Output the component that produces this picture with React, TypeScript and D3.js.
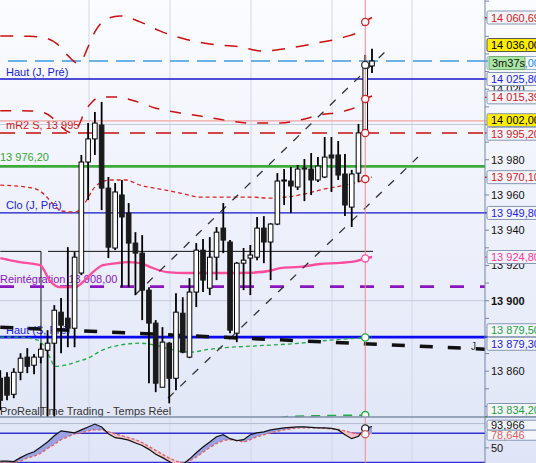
import React from 'react';
import * as d3 from 'd3';

const W = 536;
const H = 463;
const PLOT_RIGHT = 485;
const MAIN_BOTTOM = 417;
const FONT = '"Liberation Sans", Arial, Helvetica, sans-serif';

// ---- candles: bars -1 .. 54 ----
const FIRST_BAR = -1;
const barOpen = [13856, 13856.6, 13846.9, 13859.4, 13868, 13863.4, 13868, 13871.9, 13875.9, 13893.5, 13890.1, 13884.4, 13915.7, 13978.7, 13991.8, 13999.7, 13963.9, 13929.9, 13960, 13949.7, 13932.7, 13927, 13906, 13887.3, 13850.9, 13875.9, 13856, 13892.9, 13868, 13904.9, 13928.7, 13907.1, 13924.7, 13941.2, 13933.3, 13881.6, 13921.3, 13924.2, 13924.7, 13941.2, 13933.3, 13943.5, 13967.9, 13967.9, 13964.5, 13975.3, 13974.7, 13968.5, 13970.2, 13982.7, 13982.7, 13971.9, 13953.1, 13972.4, 13995.2, 14033.2];
const barHigh = [13860.6, 13859.4, 13861.7, 13870.2, 13873.1, 13869.7, 13875.9, 13883.3, 13897.5, 13901.5, 13930.4, 13927.6, 13982.7, 14000.8, 14007.1, 14012.8, 13970.2, 13966.8, 13968.5, 13955.4, 13938.9, 13937.2, 13907.7, 13889, 13885, 13876.5, 13904.3, 13902, 13912.8, 13932.7, 13935, 13936.1, 13941.8, 13955.4, 13934.4, 13921.9, 13929.9, 13931.6, 13947.5, 13948, 13944, 13972.4, 13974.7, 13975.9, 13977, 13980.4, 13983.8, 13981.5, 13992.9, 13992.9, 13990.6, 13983.2, 13974.2, 14000.3, 14039.5, 14042.9];
const barLow = [13837.9, 13843.5, 13844.7, 13854.9, 13858.9, 13858.3, 13864.5, 13829.3, 13829.3, 13870.2, 13873.6, 13873.6, 13914.5, 13957.1, 13982.7, 13951.4, 13924.2, 13928.7, 13907.7, 13907.7, 13903.2, 13889, 13853.2, 13848.1, 13850.9, 13841.8, 13849.2, 13870.2, 13867.4, 13896.4, 13904.9, 13903.2, 13911.7, 13927, 13881.6, 13876.5, 13906, 13903.2, 13923, 13921.3, 13911.7, 13942.9, 13954.3, 13949.7, 13962.8, 13956.5, 13960, 13967.3, 13969.6, 13961.7, 13968.5, 13948, 13941.8, 13967.3, 13995.2, 14029.2];
const barClose = [13843.5, 13846.4, 13859.4, 13867.4, 13862.8, 13868, 13872.5, 13875.9, 13894.6, 13886.1, 13884.4, 13924.7, 13978.7, 13991.8, 14000.8, 13963.9, 13930.4, 13961.7, 13947.5, 13932.7, 13927, 13906, 13887.3, 13853.2, 13876.5, 13856, 13893.5, 13870.8, 13904.9, 13928.7, 13911.7, 13924.7, 13938.9, 13934.4, 13883.3, 13921.3, 13923, 13925.9, 13941.2, 13933.3, 13943.5, 13967.9, 13968.5, 13965.1, 13974.7, 13974.7, 13968.5, 13976.4, 13981.5, 13981, 13971.3, 13954.3, 13971.9, 13995.2, 14033.8, 14036];

// ---- stochastic (lower panel) ----
const stochK = [23, 23, 22, 30, 37, 42, 52, 62, 75, 85, 83, 81, 87, 93, 99, 93, 79, 71, 69, 66, 60, 55, 47, 37, 30, 22, 14, 16, 27, 40, 52, 62, 73, 77, 69, 65, 67, 77, 81, 83, 87, 89, 91, 92, 93, 93, 92, 91, 91, 90, 87, 77, 69, 74, 90, 93.966];
const stochD = [19, 19, 20, 23, 29, 33, 39, 49, 57, 67, 73, 79, 81, 85, 87, 87, 83, 79, 75, 71, 67, 61, 53, 45, 37, 29, 23, 19, 23, 31, 41, 51, 59, 65, 67, 65, 62, 67, 73, 77, 81, 84, 87, 89, 91, 91, 91, 91, 90, 89, 88, 85, 81, 79, 78, 78.646];
const stochLevels = [100, 80, 20];
const stochTickValues = [50];

// ---- indicator curves (bar index, price) ----
const upperBandIdx = [-1, 3.4, 5.6, 7.4, 8.9, 10.4, 11.1, 11.8, 13, 14.5, 16.7, 19.7, 22.6, 26.3, 30, 34.5, 37.7, 41.9, 46, 50, 51.9, 53, 54];
const upperBandVal = [14050.2, 14050, 14049.1, 14045.7, 14039.5, 14034.9, 14036.6, 14042.3, 14052.5, 14059.3, 14061.6, 14058.2, 14053.1, 14048.5, 14045.7, 14044, 14041.7, 14043.4, 14046.3, 14049.7, 14052.5, 14058.2, 14060.7];
const midBandIdx = [-1, 3.4, 5.6, 7.1, 8.6, 9.6, 10.5, 11.5, 12.6, 13.8, 16, 18.9, 21.9, 25.6, 28.6, 33, 36, 40.4, 43.3, 46.3, 50, 51.9, 53, 54];
const midBandVal = [14007.8, 14007.7, 14006.5, 14002.5, 13996.9, 13995.2, 13998.6, 14007.1, 14012.8, 14015.6, 14015.6, 14013.3, 14009.4, 14006.5, 14004.8, 14002, 14000.8, 14000.8, 14002.5, 14005.4, 14007.7, 14010.5, 14014.5, 14016.2];
const lowBandIdx = [-1, 3.85, 5.6, 6.7, 8.1, 10.1, 11.5, 13, 15.2, 17.5, 19.7, 23.4, 25.6, 28.6, 33, 36, 38.9, 43.3, 47, 50, 51.9, 53, 54];
const lowBandVal = [13965.6, 13963.9, 13960, 13955.4, 13950.9, 13950.3, 13955.4, 13964.5, 13968.5, 13968.5, 13965.6, 13962.8, 13961.1, 13958.8, 13958.8, 13958.8, 13958.2, 13960, 13963.4, 13965.6, 13967.3, 13969, 13970.1];
const maIdx = [-1, 1.9, 4.9, 6.4, 7.8, 10.1, 11.2, 12.7, 14.2, 16.3, 17.8, 19.7, 21.2, 23.7, 26.6, 29.6, 32.5, 36, 38.9, 40.4, 43.3, 46.3, 49.3, 51.8, 53, 54];
const maVal = [13924.2, 13921.9, 13920.2, 13911.1, 13907.7, 13907.7, 13910.5, 13916.2, 13920.2, 13921.3, 13921.9, 13921.3, 13919.1, 13916.2, 13915.7, 13915.7, 13915.7, 13915.9, 13917, 13918.5, 13919.2, 13920.8, 13921.5, 13922.6, 13924, 13924.8];
const greenIdx = [-1, 1.9, 4.6, 5.6, 6.4, 7.1, 8.6, 10.1, 12.3, 13.8, 16.7, 19.7, 21.9, 24.1, 27.1, 30, 33, 36, 38.9, 43.3, 47.8, 50.7, 53, 54];
const greenVal = [13879.3, 13879.3, 13877.6, 13873.6, 13867.4, 13862.8, 13863.4, 13865.1, 13868, 13871.4, 13874.8, 13875.9, 13874.8, 13872.5, 13870.8, 13872.5, 13873.6, 13874.2, 13874.8, 13875.9, 13877.6, 13878.5, 13879.1, 13879.5];
const green2Idx = [38, 41.9, 47, 53, 54];
const green2Val = [13831, 13834.3, 13834.8, 13835.1, 13835.3];

// ---- trend lines ----
const trendThickIdx = [-1, 70.7];
const trendThickVal = [13885, 13872.5];
const channelUpIdx = [18.93, 55.92];
const channelUpVal = [13903.2, 14041.2];
const channelLowIdx = [23.82, 60.8];
const channelLowVal = [13844.7, 13981.5];

// ---- horizontal levels ----
const lastPrice = 14036;
const highDayPrev = 14025.8;
const pivotPink = 14002;
const mR2S = 13995.2;
const greenLevel = 13976.2;
const closeDayPrev = 13949.8;
const boxLevel = 13928;
const boxSegIdx = [[-1, 5.03], [6.07, 54.15]];
const boxVertIdx = 5.03;
const reintegration = 13908;
const highWeekPrev = 13879.3;
const gridPrices = [14000, 13900];
const gridXs = [89, 170, 251, 332, 412];

// ---- texts ----
const leftLabelTexts = ['Haut (J, Pré)', 'mR2 S, 13 995', '13 976,20', 'Clo (J, Pré)', 'Reintégration 13 908,00', 'Haut (S, Pré)'];
const leftLabelPrices = [highDayPrev, mR2S, greenLevel, closeDayPrev, reintegration, highWeekPrev];
const leftLabelColors = ['#2020e0', '#d02020', '#35a835', '#2020e0', '#8a16c0', '#2020e0'];
const leftLabelIndent = [6, 6, 0, 6, 0, 6];
const brandText = 'ProRealTime Trading - Temps Réel';
const countdownText = '3m37s';
const trendLabel = 'J';

const axisBoxValues = [14060.69, 14025.8, 14015.39, 14002, 13995.2, 13970.1, 13949.8, 13924.8, 13879.5, 13879.3, 13834.2];
const axisBoxColors = ['#d42020', '#1c1ce8', '#d42020', '#000000', '#d42020', '#d42020', '#1c1ce8', '#ff3399', '#23a040', '#1c1ce8', '#23a040'];
const axisBoxFills = ['#f4f6fc', '#f4f6fc', '#f4f6fc', '#ffee00', '#f4f6fc', '#f4f6fc', '#f4f6fc', '#f4f6fc', '#f4f6fc', '#f4f6fc', '#f4f6fc'];
const axisTickValues = d3.range(13840, 14071, 10);
const axisLabelValues = [13860, 13880, 13900, 13920, 13940, 13960, 13980, 14000, 14020, 14060];

const CURSOR_BAR = 53;

function spread(items: { y: number }[], h: number, lo: number, hi: number) {
  const s = [...items].sort((a, b) => a.y - b.y);
  for (let it = 0; it < 40; it++) {
    for (let i = 1; i < s.length; i++) {
      const gap = s[i].y - s[i - 1].y;
      if (gap < h) {
        const d = (h - gap) / 2;
        s[i - 1].y -= d;
        s[i].y += d;
      }
    }
    s.forEach((o) => {
      o.y = Math.max(lo, Math.min(hi, o.y));
    });
  }
}

export default function App() {
  const x = d3.scaleLinear().domain([-1, 54]).range([0.24, 372]);
  const y = d3.scaleLinear().domain([13879.3, 14025.8]).range([337.2, 79]);
  const ys = d3.scaleLinear().domain([20, 80]).range([462.5, 433.3]);
  const locale = d3.formatLocale({ decimal: ',', thousands: ' ', grouping: [3], currency: ['', ''] });
  const fmt2 = locale.format(',.2f');
  const fmt0 = locale.format(',.0f');
  const fmt3 = locale.format(',.3f');

  const knot = (idx: number[], vals: number[], curve: d3.CurveFactory = d3.curveMonotoneX) =>
    d3
      .line<number>()
      .x((_, i) => x(idx[i]))
      .y((v) => y(v))
      .curve(curve)(vals) || '';

  const barX = (i: number) => x(i + FIRST_BAR);

  const kPath = d3.line<number>().x((_, i) => barX(i)).y((v) => ys(v))(stochK) || '';
  const dPath = d3.line<number>().x((_, i) => barX(i)).y((v) => ys(v))(stochD) || '';
  const kdArea =
    d3
      .area<number>()
      .x((_, i) => barX(i))
      .y0((_, i) => ys(stochD[i]))
      .y1((v) => ys(v))(stochK) || '';
  const aboveD =
    d3
      .area<number>()
      .x((_, i) => barX(i))
      .y0(0)
      .y1((v) => ys(v))(stochD) || '';
  const belowD =
    d3
      .area<number>()
      .x((_, i) => barX(i))
      .y0(H + 50)
      .y1((v) => ys(v))(stochD) || '';

  const cursorX = x(CURSOR_BAR);
  const cIdx = CURSOR_BAR - FIRST_BAR;
  const interp = (idx: number[], vals: number[], at: number) => {
    const j = idx.findIndex((v) => v >= at);
    if (j <= 0) return vals[Math.max(0, j)];
    const t = (at - idx[j - 1]) / (idx[j] - idx[j - 1]);
    return vals[j - 1] + t * (vals[j] - vals[j - 1]);
  };

  const lastY = y(lastPrice);
  const boxes = axisBoxValues.map((v, i) => ({
    y: y(v),
    text: fmt2(v),
    color: axisBoxColors[i],
    fill: axisBoxFills[i],
  }));
  const yellowY = lastY - 16;
  const currentY = lastY + 2;
  spread(boxes, 13.5, 7, MAIN_BOTTOM - 7);
  const subBoxes = [
    { y: ys(stochK[stochK.length - 1]), text: fmt3(stochK[stochK.length - 1]), color: '#111' },
    { y: ys(stochD[stochD.length - 1]), text: fmt3(stochD[stochD.length - 1]), color: '#e06060' },
  ];
  spread(subBoxes, 10, 423, 458);

  const boxTickColor = (c: string) => (c === '#000000' ? '#f0a0a0' : c);

  return (
    <svg
      width={W}
      height={H}
      style={{ position: 'absolute', left: 0, top: 0, display: 'block' }}
      fontFamily={FONT}
      fontSize={11}
    >
      <defs>
        <linearGradient id="bg" x1="0" y1="0" x2="0" y2="1">
          <stop offset="0" stopColor="#fbfcff" />
          <stop offset="0.88" stopColor="#e3e8f8" />
          <stop offset="1" stopColor="#dfe5f7" />
        </linearGradient>
        <clipPath id="mainClip">
          <rect x={0} y={0} width={PLOT_RIGHT} height={MAIN_BOTTOM} />
        </clipPath>
        <clipPath id="subClip">
          <rect x={0} y={MAIN_BOTTOM + 1} width={PLOT_RIGHT} height={H - MAIN_BOTTOM - 1} />
        </clipPath>
        <clipPath id="aboveD">
          <path d={aboveD} />
        </clipPath>
        <clipPath id="belowD">
          <path d={belowD} />
        </clipPath>
        <clipPath id="axisClip">
          <rect x={PLOT_RIGHT} y={0} width={W - PLOT_RIGHT} height={H} />
        </clipPath>
      </defs>

      <rect x={0} y={0} width={W} height={H} fill="url(#bg)" />

      {gridXs.map((gx) => (
        <line key={'gx' + gx} x1={gx} x2={gx} y1={0} y2={H} stroke="#d3d8e6" strokeWidth={1} />
      ))}
      {gridPrices.map((p) => (
        <line key={'gp' + p} x1={0} x2={PLOT_RIGHT} y1={y(p)} y2={y(p)} stroke="#c3c9da" strokeWidth={1} />
      ))}

      <g clipPath="url(#mainClip)">
        {leftLabelTexts.map((t, i) => (
          <text key={t} x={leftLabelIndent[i]} y={y(leftLabelPrices[i]) - (i === 2 ? 5 : 3.5)} fill={leftLabelColors[i]}>
            {t}
          </text>
        ))}
        <text x={0} y={415} fill="#333">
          {brandText}
        </text>

        <line x1={8} x2={PLOT_RIGHT} y1={y(lastPrice)} y2={y(lastPrice)} stroke="#3d9be0" strokeWidth={1.3} strokeDasharray="19,8" />
        <line x1={0} x2={PLOT_RIGHT} y1={y(highDayPrev)} y2={y(highDayPrev)} stroke="#1515c8" strokeWidth={1.3} />
        <line x1={0} x2={PLOT_RIGHT} y1={y(pivotPink)} y2={y(pivotPink)} stroke="#f3a3a3" strokeWidth={1.3} />
        <line x1={0} x2={PLOT_RIGHT} y1={y(mR2S)} y2={y(mR2S)} stroke="#c80f0f" strokeWidth={1.5} strokeDasharray="15,11" />
        <line x1={0} x2={PLOT_RIGHT} y1={y(greenLevel)} y2={y(greenLevel)} stroke="#3cab3c" strokeWidth={2.8} />
        <line x1={0} x2={PLOT_RIGHT} y1={y(closeDayPrev)} y2={y(closeDayPrev)} stroke="#1515c8" strokeWidth={1.3} />
        {boxSegIdx.map((s, i) => (
          <line key={'bs' + i} x1={x(s[0])} x2={x(s[1])} y1={y(boxLevel)} y2={y(boxLevel)} stroke="#111" strokeWidth={1} />
        ))}
        <line x1={x(boxVertIdx)} x2={x(boxVertIdx)} y1={y(boxLevel)} y2={MAIN_BOTTOM} stroke="#111" strokeWidth={1} />
        <line x1={0} x2={PLOT_RIGHT} y1={y(reintegration)} y2={y(reintegration)} stroke="#8a16c0" strokeWidth={2.8} strokeDasharray="14,16" />
        <line x1={0} x2={PLOT_RIGHT} y1={y(highWeekPrev)} y2={y(highWeekPrev)} stroke="#0a0af0" strokeWidth={2.8} />

        <path d={knot(upperBandIdx, upperBandVal)} fill="none" stroke="#cc1010" strokeWidth={1.5} strokeDasharray="13,11" />
        <path d={knot(midBandIdx, midBandVal)} fill="none" stroke="#cc1010" strokeWidth={1.5} strokeDasharray="11,11" />
        <path d={knot(lowBandIdx, lowBandVal)} fill="none" stroke="#dd2222" strokeWidth={1.3} strokeDasharray="4,3" />
        <path d={knot(maIdx, maVal)} fill="none" stroke="#ff4d9e" strokeWidth={2.4} />
        <path d={knot(greenIdx, greenVal)} fill="none" stroke="#22aa44" strokeWidth={1.3} strokeDasharray="4,3" />
        <path d={knot(green2Idx, green2Val)} fill="none" stroke="#22aa44" strokeWidth={1.6} strokeDasharray="9,7" />

        <path d={knot(channelUpIdx, channelUpVal, d3.curveLinear)} fill="none" stroke="#333" strokeWidth={1.3} strokeDasharray="8,9" />
        <path d={knot(channelLowIdx, channelLowVal, d3.curveLinear)} fill="none" stroke="#333" strokeWidth={1.3} strokeDasharray="8,9" />
        <path d={knot(trendThickIdx, trendThickVal, d3.curveLinear)} fill="none" stroke="#111" strokeWidth={3.5} strokeDasharray="13,15" />
        <text x={471} y={y(trendThickVal[0]) + (y(trendThickVal[1]) - y(trendThickVal[0])) * 0.97 + 1} fontSize={10} fill="#333">
          {trendLabel}
        </text>

        {barOpen.map((o, i) => {
          const c = barClose[i];
          const cx = barX(i);
          const up = c >= o;
          const top = y(Math.max(o, c));
          const bh = Math.max(1, Math.abs(y(o) - y(c)));
          return (
            <g key={'c' + i}>
              <line x1={cx} x2={cx} y1={y(barHigh[i])} y2={y(barLow[i])} stroke="#000" strokeWidth={1.8} />
              <rect
                x={cx - 2.3}
                y={top}
                width={4.6}
                height={bh}
                fill={up ? '#ffffff' : '#1a1a1a'}
                stroke={up ? '#000' : '#1a1a1a'}
                strokeWidth={1}
              />
            </g>
          );
        })}

        <line x1={cursorX} x2={cursorX} y1={0} y2={H} stroke="#f08a8a" strokeWidth={1} />
        {[
          { v: interp(upperBandIdx, upperBandVal, CURSOR_BAR), c: '#dd2222' },
          { v: interp(midBandIdx, midBandVal, CURSOR_BAR), c: '#dd2222' },
          { v: mR2S, c: '#dd2222' },
          { v: interp(lowBandIdx, lowBandVal, CURSOR_BAR), c: '#dd2222' },
          { v: interp(maIdx, maVal, CURSOR_BAR), c: '#ff4d9e' },
          { v: interp(greenIdx, greenVal, CURSOR_BAR), c: '#22aa44' },
          { v: interp(green2Idx, green2Val, CURSOR_BAR), c: '#22aa44' },
          { v: barClose[cIdx], c: '#333' },
        ].map((m, i) => (
          <circle key={'m' + i} cx={cursorX} cy={y(m.v)} r={3.6} fill="#fff" stroke={m.c} strokeWidth={1.3} />
        ))}
      </g>

      <g clipPath="url(#subClip)">
        {stochLevels.map((lv) => (
          <line
            key={'sl' + lv}
            x1={0}
            x2={PLOT_RIGHT}
            y1={ys(lv)}
            y2={ys(lv)}
            stroke={lv === 100 ? '#b4bccf' : '#3030d0'}
            strokeWidth={lv === 100 ? 1 : 1.4}
          />
        ))}
        <g clipPath="url(#aboveD)">
          <path d={kdArea} fill="#98a2e4" />
        </g>
        <g clipPath="url(#belowD)">
          <path d={kdArea} fill="#f2c2ca" />
        </g>
        <path d={dPath} fill="none" stroke="#e06060" strokeWidth={1.3} strokeDasharray="3,2" />
        <path d={kPath} fill="none" stroke="#111" strokeWidth={1.2} />
        <line x1={cursorX} x2={cursorX} y1={MAIN_BOTTOM} y2={H} stroke="#f08a8a" strokeWidth={1} />
        <circle cx={cursorX} cy={ys(stochK[cIdx])} r={3.6} fill="#fff" stroke="#222" strokeWidth={1.3} />
        <circle cx={cursorX} cy={ys(stochD[cIdx])} r={3.6} fill="#fff" stroke="#e06060" strokeWidth={1.3} />
      </g>

      <line x1={0} x2={W} y1={MAIN_BOTTOM} y2={MAIN_BOTTOM} stroke="#7f8ea8" strokeWidth={1.6} />

      <line x1={PLOT_RIGHT} x2={PLOT_RIGHT} y1={0} y2={H} stroke="#7585a3" strokeWidth={1} />
      <g clipPath="url(#axisClip)">
        {axisTickValues.map((v) => (
          <line key={'t' + v} x1={PLOT_RIGHT} x2={PLOT_RIGHT + 4} y1={y(v)} y2={y(v)} stroke="#7585a3" strokeWidth={1} />
        ))}
        {axisLabelValues.map((v) => (
          <text
            key={'tl' + v}
            x={PLOT_RIGHT + 6}
            y={y(v) + 4}
            fill="#111"
            fontWeight={v % 100 === 0 ? 'bold' : 'normal'}
          >
            {fmt0(v)}
          </text>
        ))}
        {stochTickValues.map((v) => (
          <g key={'st' + v}>
            <line x1={PLOT_RIGHT} x2={PLOT_RIGHT + 4} y1={ys(v)} y2={ys(v)} stroke="#7585a3" />
            <text x={PLOT_RIGHT + 6} y={ys(v) + 4} fill="#111">
              {v}
            </text>
          </g>
        ))}
        {boxes.map((b, i) => (
          <g key={'b' + i}>
            <line x1={PLOT_RIGHT - 4} x2={PLOT_RIGHT + 3} y1={y(axisBoxValues[i])} y2={y(axisBoxValues[i])} stroke={boxTickColor(b.color)} strokeWidth={1.2} />
            <rect x={PLOT_RIGHT + 2} y={b.y - 6.5} width={62} height={13} rx={1.5} fill={b.fill} stroke="#8596b3" strokeWidth={1} />
            <text x={PLOT_RIGHT + 6} y={b.y + 4} fill={b.color}>
              {b.text}
            </text>
          </g>
        ))}
        <rect x={PLOT_RIGHT + 2} y={currentY - 6.5} width={62} height={13} rx={1.5} fill="#f7f9ff" stroke="#8fb0d8" />
        <text x={PLOT_RIGHT + 6} y={currentY + 4} fill="#2a8cf0">
          {fmt2(lastPrice)}
        </text>
        <rect x={PLOT_RIGHT + 4} y={currentY - 6.5} width={36} height={13} rx={1.5} fill="#a9e6a3" stroke="#72ad72" />
        <text x={PLOT_RIGHT + 7} y={currentY + 4} fill="#111">
          {countdownText}
        </text>
        <line x1={PLOT_RIGHT - 4} x2={PLOT_RIGHT + 3} y1={lastY} y2={lastY} stroke="#3d9be0" strokeWidth={1.2} />
        <rect x={PLOT_RIGHT + 2} y={yellowY - 6.5} width={62} height={13} rx={1.5} fill="#ffee00" stroke="#555" />
        <text x={PLOT_RIGHT + 6} y={yellowY + 4} fill="#000">
          {fmt2(lastPrice)}
        </text>
        {subBoxes.map((b, i) => (
          <g key={'sb' + i}>
            <rect x={PLOT_RIGHT + 2} y={b.y - 5} width={62} height={10} rx={1.5} fill="#f4f6fc" stroke="#8596b3" />
            <text x={PLOT_RIGHT + 6} y={b.y + 4} fill={b.color}>
              {b.text}
            </text>
          </g>
        ))}
      </g>
    </svg>
  );
}
